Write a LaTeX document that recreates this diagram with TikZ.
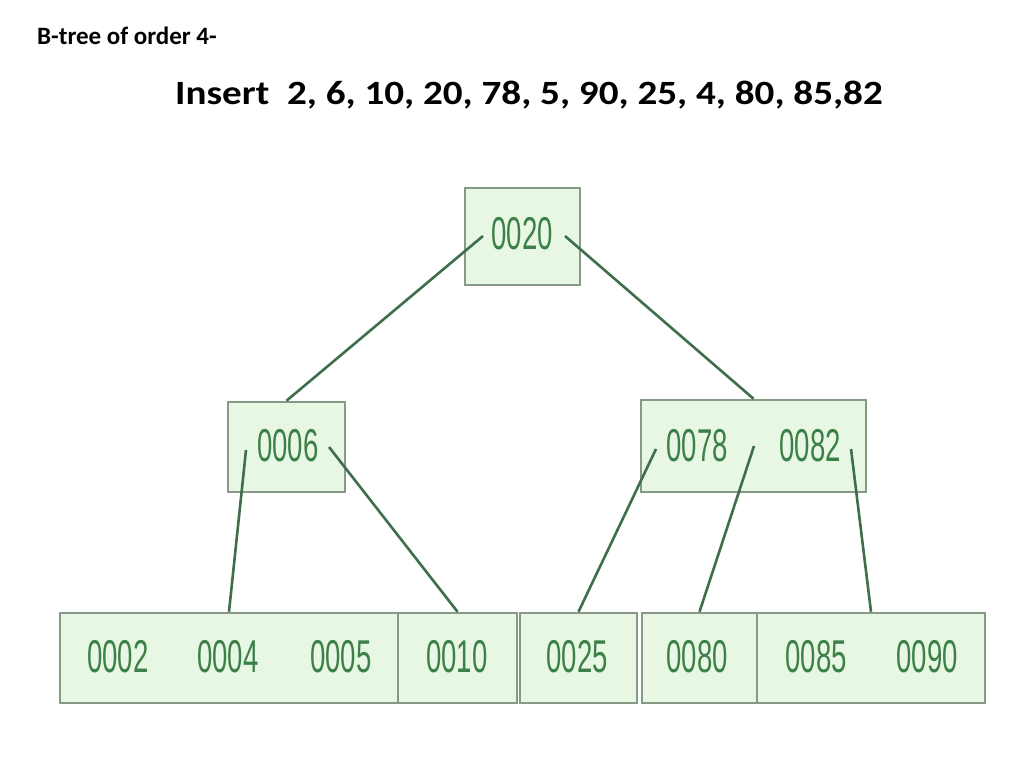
\documentclass[tikz,border=0pt]{standalone}
\usepackage{graphicx}
\usepackage{fontspec}
\setmainfont{Carlito}
\newfontfamily\keyfont[FakeStretch=0.6]{Liberation Sans}
\definecolor{boxfill}{HTML}{E8F7E3}
\definecolor{boxline}{HTML}{879A87}
\definecolor{linkcol}{HTML}{3E6E4C}
\definecolor{keycol}{HTML}{3C8049}
\begin{document}
\begin{tikzpicture}[x=1pt,y=-1pt,
  nodebox/.style={draw=boxline,line width=2.5pt,fill=boxfill,inner sep=0pt,minimum height=90pt},
  keytext/.style={text=keycol,font=\keyfont\fontsize{46}{46}\selectfont,inner sep=0pt},
  link/.style={draw=linkcol,line width=2.6pt}]
\useasboundingbox (0,0) rectangle (1024,767);
\fill[white] (0,0) rectangle (1024,767);
% titles
\node[anchor=base west,inner sep=0pt,font=\bfseries\fontsize{25}{25}\selectfont] (title) at (37,45) {B-tree of order 4-};
\node[anchor=base west,inner sep=0pt,font=\bfseries\fontsize{34}{34}\selectfont] (insert) at (175,105) {\scalebox{1.15}[1]{Insert\ \ 2, 6, 10, 20, 78, 5, 90, 25, 4, 80, 85,82}};
% boxes
\node[nodebox,minimum width=115pt,minimum height=97pt] (root) at (522.5,236.5) {};
\node[nodebox,minimum width=117pt] (m1) at (286.5,447) {};
\node[nodebox,minimum width=225pt,minimum height=92pt] (m2) at (753.5,446) {};
\node[nodebox,minimum width=338pt] (b1) at (229,658) {};
\node[nodebox,minimum width=119pt] (b2) at (457.5,658) {};
\node[nodebox,minimum width=117pt] (b3) at (578.5,658) {};
\node[nodebox,minimum width=115pt] (b4) at (699.5,658) {};
\node[nodebox,minimum width=228pt] (b5) at (871,658) {};
% keys
\node[keytext] (k20) at (522,234) {0020};
\node[keytext] (k6) at (288,446) {0006};
\node[keytext] (k78) at (697,446) {0078};
\node[keytext] (k82) at (810,446) {0082};
\node[keytext] (k2) at (118,657) {0002};
\node[keytext] (k4) at (228,657) {0004};
\node[keytext] (k5) at (341,657) {0005};
\node[keytext] (k10) at (457,657) {0010};
\node[keytext] (k25) at (577,657) {0025};
\node[keytext] (k80) at (697,657) {0080};
\node[keytext] (k85) at (816,657) {0085};
\node[keytext] (k90) at (927,657) {0090};
% pointer starts
\coordinate (p20l) at (483,236);
\coordinate (p20r) at (565,236);
\coordinate (p6l) at (246,450);
\coordinate (p6r) at (329,447);
\coordinate (p78l) at (656,449);
\coordinate (p78r) at (754,446);
\coordinate (p82r) at (851,449);
% connectors
\draw[link] (p20l) -- (m1.north);
\draw[link] (p20r) -- (m2.north);
\draw[link] (p6l) -- (b1.north);
\draw[link] (p6r) -- (b2.north);
\draw[link] (p78l) -- (b3.north);
\draw[link] (p78r) -- (b4.north);
\draw[link] (p82r) -- (b5.north);
\end{tikzpicture}
\end{document}
